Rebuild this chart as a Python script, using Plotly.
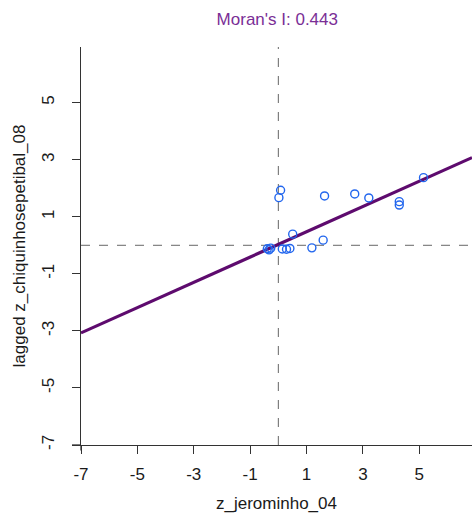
import plotly.graph_objects as go

# Standardised variable and its spatial lag
z_jerominho = [0.08, 0.02, 1.64, 2.71, 3.21, 4.29, 4.29, 5.15, 0.51, 1.59, 1.19,
               -0.39, -0.33, -0.27, 0.14, 0.29, 0.41]
lag_chiquinho = [1.93, 1.67, 1.73, 1.80, 1.66, 1.53, 1.41, 2.37, 0.39, 0.18, -0.09,
                 -0.12, -0.16, -0.10, -0.13, -0.14, -0.11]

moran_i = 0.443
intercept = 0.03

tick_vals = [-7, -5, -3, -1, 1, 3, 5]
tick_text = [str(v) for v in tick_vals]
x_lim = [-7, 6.87]
y_lim = [-7, 6.95]

font_family = "Liberation Sans, Arial, sans-serif"
axis_col = "#333333"
text_col = "#1a1a1a"
purple_line = "#5E0B6E"
title_col = "#7A2E96"
point_col = "#2266EE"

fig = go.Figure()

# Regression line with slope equal to Moran's I
fig.add_trace(go.Scatter(
    x=x_lim,
    y=[intercept + moran_i * v for v in x_lim],
    mode="lines",
    line=dict(color=purple_line, width=3.2),
    hoverinfo="skip",
))

fig.add_trace(go.Scatter(
    x=z_jerominho,
    y=lag_chiquinho,
    mode="markers",
    marker=dict(symbol="circle-open", size=8, color=point_col,
                line=dict(width=1.4, color=point_col)),
))

# Mean reference lines
fig.add_shape(type="line", xref="x", yref="y domain", x0=0, x1=0, y0=0, y1=1,
              line=dict(color="#666666", width=1, dash="dash"), layer="below")
fig.add_shape(type="line", xref="x domain", yref="y", x0=0, x1=1, y0=0, y1=0,
              line=dict(color="#666666", width=1, dash="dash"), layer="below")

# Small overhangs where the two axis lines cross
fig.add_shape(type="line", xref="x domain", yref="y domain", x0=-0.023, x1=0, y0=0, y1=0,
              line=dict(color=axis_col, width=1.3))
fig.add_shape(type="line", xref="x domain", yref="y domain", x0=0, x1=0, y0=-0.014, y1=0,
              line=dict(color=axis_col, width=1.3))

axis_common = dict(
    tickvals=tick_vals,
    ticktext=tick_text,
    showgrid=False,
    zeroline=False,
    showline=True,
    linecolor=axis_col,
    linewidth=1.3,
    ticks="outside",
    ticklen=8,
    tickwidth=1.3,
    tickcolor=axis_col,
    tickfont=dict(family=font_family, size=17, color=text_col),
    mirror=False,
)

fig.update_layout(
    width=472,
    height=513,
    margin=dict(l=81, r=0, t=47, b=68),
    paper_bgcolor="white",
    plot_bgcolor="white",
    showlegend=False,
    title=dict(text="Moran's I: 0.443", x=0.5875, xanchor="center", y=0.962, yanchor="middle",
               font=dict(family=font_family, size=17, color=title_col)),
    xaxis=dict(range=x_lim, **axis_common,
               ticklabelstandoff=5,
               title=dict(text="z_jerominho_04", standoff=16,
                          font=dict(family=font_family, size=17, color=text_col))),
    yaxis=dict(range=y_lim, **axis_common, tickangle=-90,
               ticklabelstandoff=11,
               title=dict(text="lagged z_chiquinhosepetibal_08", standoff=9,
                          font=dict(family=font_family, size=17, color=text_col))),
)

fig.write_html("out.html")
